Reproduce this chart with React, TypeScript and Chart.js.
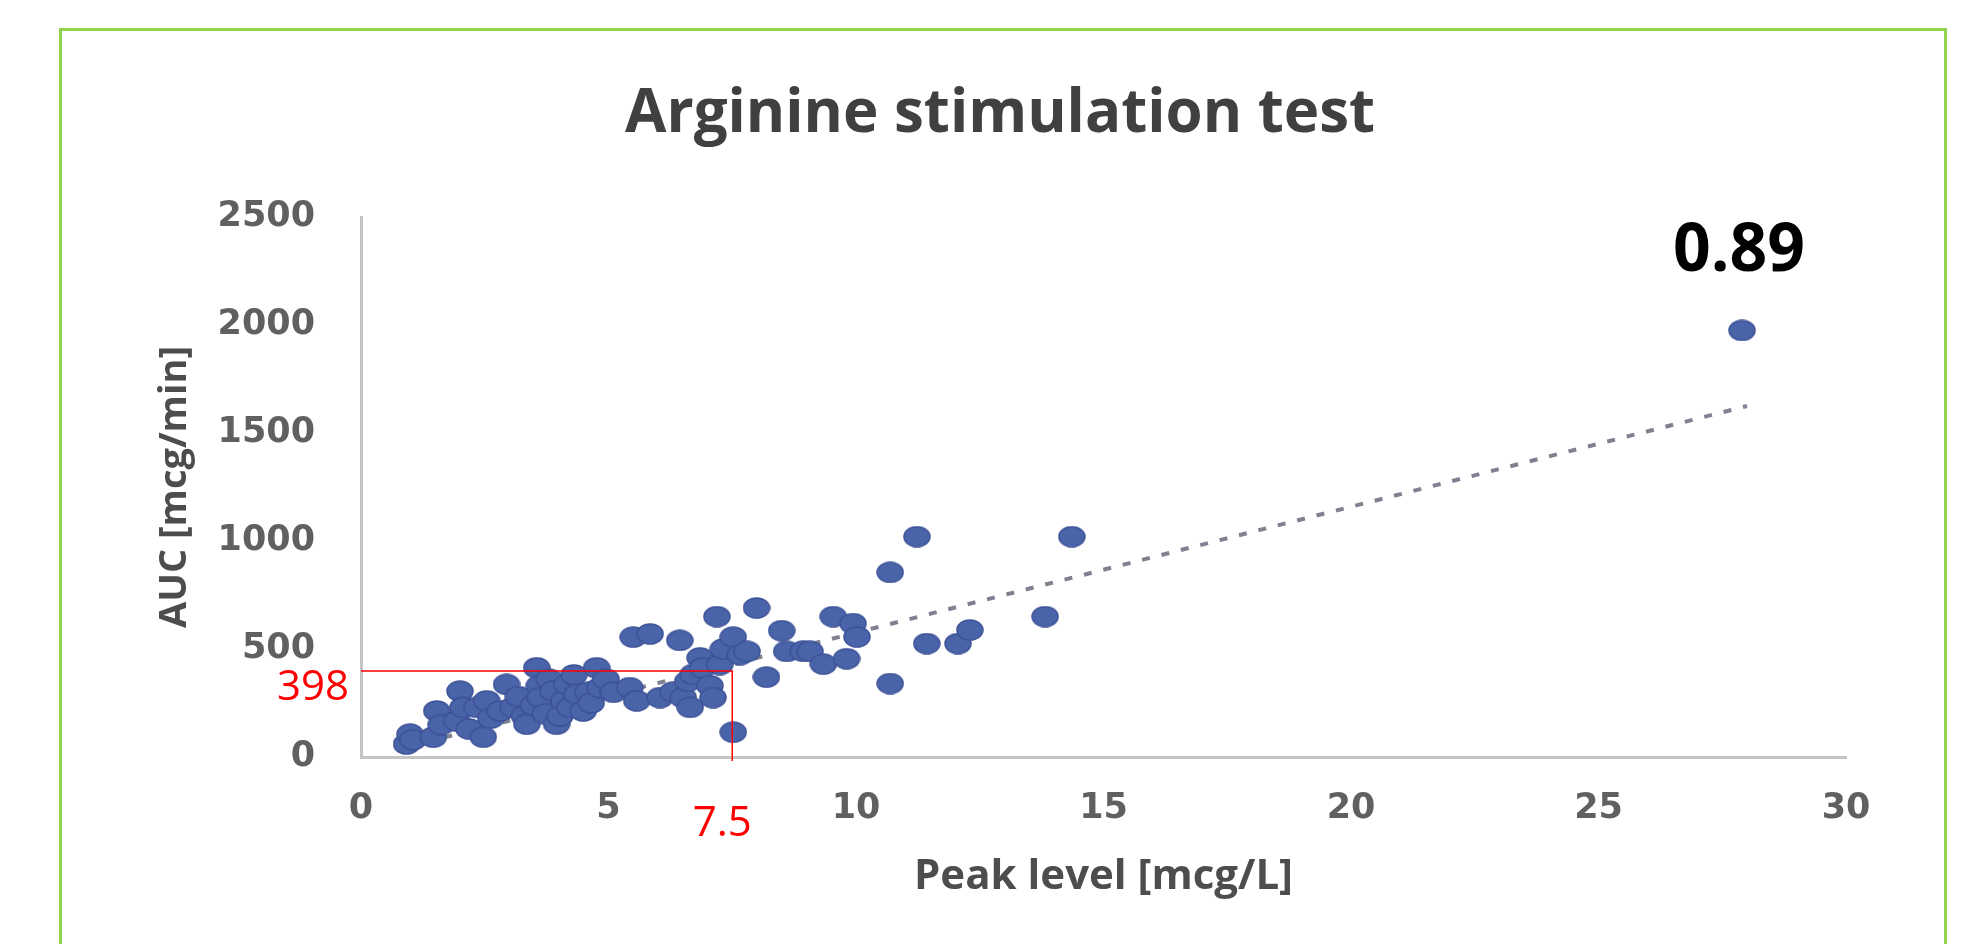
import React, { useEffect, useRef } from "react";
import { Chart, registerables } from "chart.js";

Chart.register(...registerables);

// ---- Data ----
const peakLevel = [
  0.92, 0.99, 1.05, 1.46, 1.53, 1.62, 1.93, 2.0, 2.06, 2.18, 2.34, 2.47, 2.54, 2.62, 2.81, 2.94,
  3.07, 3.18, 3.3, 3.35, 3.48, 3.55, 3.6, 3.62, 3.72, 3.8, 3.88, 3.95, 4.02, 4.1, 4.16, 4.22,
  4.3, 4.36, 4.49, 4.58, 4.65, 4.76, 4.83, 4.95, 5.1, 5.43, 5.57, 5.5, 5.84, 6.04, 6.3, 6.44,
  6.51, 6.65, 6.6, 6.71, 6.85, 6.9, 7.05, 7.11, 7.19, 7.25, 7.32, 7.52, 7.66, 7.52, 7.8, 7.99,
  8.19, 8.5, 8.6, 8.93, 9.07, 9.34, 9.81, 9.54, 9.94, 10.02, 10.69, 11.23, 10.69, 11.43, 12.06,
  12.3, 13.82, 14.36, 27.9,
];
const auc = [
  60, 106, 80, 92, 213, 150, 167, 305, 230, 130, 230, 92, 260, 180, 213, 336,
  230, 280, 190, 152, 240, 413, 330, 275, 200, 360, 305, 152, 190, 260, 336, 230,
  380, 290, 213, 300, 250, 413, 321, 360, 300, 321, 260, 555, 570, 275, 300, 540,
  275, 230, 350, 382, 459, 413, 330, 275, 650, 428, 500, 555, 474, 115, 489, 690,
  370, 585, 489, 490, 489, 430, 455, 650, 618, 556, 855, 1020, 340, 525, 525,
  588, 650, 1020, 1975,
];
const trendX = [0.9, 28.0];
const trendY = [45, 1625];

const xMin = 0;
const xMax = 30;
const xStep = 5;
const yMin = 0;
const yMax = 2500;
const yStep = 500;

const chartTitle = "Arginine stimulation test";
const xTitle = "Peak level [mcg/L]";
const yTitle = "AUC [mcg/min]";
const cutoffX = 7.5;
const cutoffY = 398;
const rLabel = "0.89";

const FONT = "'Open Sans', 'DejaVu Sans', sans-serif";
const TICK_FONT = "'DejaVu Sans', sans-serif";

function makeEllipse(w: number, h: number): HTMLCanvasElement {
  const c = document.createElement("canvas");
  c.width = w;
  c.height = h;
  const g = c.getContext("2d")!;
  g.beginPath();
  g.ellipse(w / 2, h / 2, w / 2 - 1, h / 2 - 1, 0, 0, Math.PI * 2);
  g.fillStyle = "#4a64aa";
  g.fill();
  g.lineWidth = 1.5;
  g.strokeStyle = "#3d5298";
  g.stroke();
  return c;
}

const annotPlugin = {
  id: "annotations",
  afterDatasetsDraw(chart: any) {
    const { ctx, chartArea } = chart;
    const xs = chart.scales.x;
    const ys = chart.scales.y;
    const px = xs.getPixelForValue(cutoffX);
    const py = ys.getPixelForValue(cutoffY);
    ctx.save();
    ctx.strokeStyle = "#ff0000";
    ctx.lineWidth = 1.5;
    ctx.beginPath();
    ctx.moveTo(chartArea.left, py);
    ctx.lineTo(px, py);
    ctx.lineTo(px, chartArea.bottom + 4);
    ctx.stroke();

    ctx.fillStyle = "#ff0000";
    ctx.font = `42px ${FONT}`;
    ctx.textBaseline = "middle";
    ctx.textAlign = "right";
    ctx.fillText(String(cutoffY), chartArea.left - 12, py + 17);
    ctx.textAlign = "center";
    ctx.fillText(String(cutoffX), px - 10, chartArea.bottom + 67);

    ctx.fillStyle = "#000000";
    ctx.font = `bold 66px ${FONT}`;
    ctx.textAlign = "center";
    ctx.fillText(rLabel, chartArea.right - 107, chartArea.top + 35);
    ctx.restore();
  },
};

export default function App() {
  const ref = useRef<HTMLCanvasElement | null>(null);

  useEffect(() => {
    if (!ref.current) return;
    const points = peakLevel.map((x, i) => ({ x, y: auc[i] }));
    const trend = trendX.map((x, i) => ({ x, y: trendY[i] }));
    const marker = makeEllipse(28, 22);

    const chart = new Chart(ref.current, {
      type: "scatter",
      data: {
        datasets: [
          {
            label: "Data",
            data: points,
            pointStyle: marker as any,
            pointRadius: 12,
            backgroundColor: "#4a64aa",
            borderColor: "#3d5298",
            order: 1,
          },
          {
            type: "line",
            label: "Trend",
            data: trend,
            borderColor: "#7f8090",
            borderWidth: 4,
            borderDash: [8, 12],
            pointRadius: 0,
            fill: false,
            order: 2,
          } as any,
        ],
      },
      plugins: [annotPlugin],
      options: {
        animation: false,
        responsive: false,
        devicePixelRatio: 1,
        layout: { padding: { left: 154, right: 121, top: 79, bottom: 42 } },
        plugins: {
          legend: { display: false },
          tooltip: { enabled: false },
          title: {
            display: true,
            text: chartTitle,
            color: "#404040",
            font: { family: FONT, size: 60, weight: "bold" },
            padding: { top: 0, bottom: 66 },
          },
        },
        scales: {
          x: {
            type: "linear",
            min: xMin,
            max: xMax,
            grid: { display: false, drawTicks: false },
            border: { display: true, color: "#c4c4c4", width: 3 },
            afterFit: (scale: any) => {
              scale.height = 145;
            },
            ticks: {
              stepSize: xStep,
              padding: 31,
              color: "#606060",
              font: { family: TICK_FONT, size: 35, weight: "bold" },
              callback: (v: any) => String(v),
            },
            title: {
              display: true,
              text: xTitle,
              color: "#4d4d4d",
              font: { family: FONT, size: 42, weight: "bold" },
              padding: { top: 24, bottom: 0 },
            },
          },
          y: {
            type: "linear",
            min: yMin,
            max: yMax,
            grid: { display: false, drawTicks: false },
            border: { display: true, color: "#c4c4c4", width: 3 },
            afterFit: (scale: any) => {
              scale.width = 207;
            },
            ticks: {
              stepSize: yStep,
              padding: 46,
              color: "#606060",
              font: { family: TICK_FONT, size: 35, weight: "bold" },
              callback: (v: any) => String(v),
            },
            title: {
              display: true,
              text: yTitle,
              color: "#4d4d4d",
              font: { family: FONT, size: 38, weight: "bold", lineHeight: 1 },
              padding: { top: 2, bottom: 0 },
            },
          },
        },
      },
    });
    return () => chart.destroy();
  }, []);

  return (
    <div
      style={{
        position: "fixed",
        left: 0,
        top: 0,
        width: 1967,
        height: 944,
        overflow: "hidden",
        background: "#ffffff",
      }}
    >
      <div
        style={{
          position: "absolute",
          left: 59,
          top: 28,
          width: 1882,
          height: 920,
          borderTop: "3px solid #92d050",
          borderLeft: "3px solid #92d050",
          borderRight: "3px solid #92d050",
        }}
      />
      <canvas ref={ref} width={1967} height={944} style={{ position: "absolute", left: 0, top: 0 }} />
    </div>
  );
}
